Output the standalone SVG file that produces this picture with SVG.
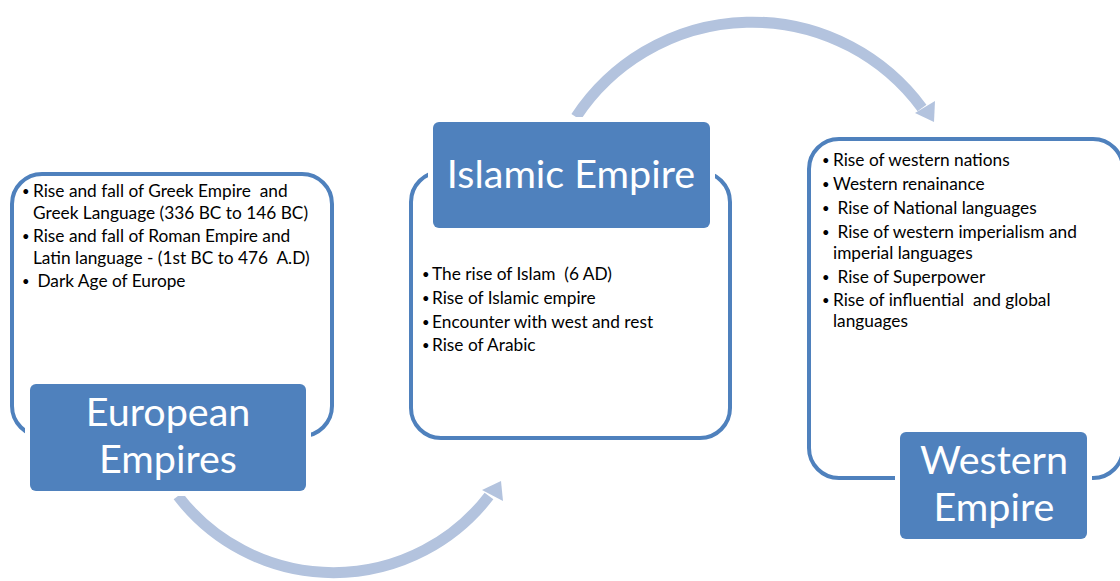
<svg xmlns="http://www.w3.org/2000/svg" width="1120" height="581" viewBox="0 0 1120 581">
<style>
.outline{fill:#ffffff;stroke:#4f81bd;stroke-width:4}
.mask{fill:#ffffff}
.title{fill:#4f81bd}
.tt{font-family:Lato,"Open Sans",sans-serif;font-size:39.5px;fill:#ffffff;text-anchor:middle}
.bt{font-family:Lato,"Open Sans",sans-serif;font-size:17.3px;fill:#000000;white-space:pre}
.bu{font-family:Lato,"Open Sans",sans-serif;font-size:13px;fill:#000000}
.arc{fill:none;stroke:#b3c3de;stroke-width:11}
.head{fill:#b3c3de}
</style>
<g id="connectors">
<path class="arc" d="M 178 496 A 196 196 0 0 0 489 496"/>
<polygon class="head" points="501,481 482,490 503,501"/>
<path class="arc" d="M 576 117 A 211 211 0 0 1 922 108"/>
<polygon class="head" points="935,101 915,113 934,122"/>
</g>
<g id="european">
<rect class="outline" x="12" y="174" width="320" height="262" rx="30"/>
<rect class="mask" x="25" y="379" width="286" height="117" rx="8"/>
<rect class="title" x="30" y="384" width="276" height="107" rx="6"/>
<text class="tt" x="168" y="426">European</text>
<text class="tt" x="168" y="473">Empires</text>
<text class="bu" x="22" y="196">•</text><text class="bt" x="33" y="197">Rise and fall of Greek Empire  and</text>
<text class="bt" x="33" y="219">Greek Language (336 BC to 146 BC)</text>
<text class="bu" x="22" y="241">•</text><text class="bt" x="33" y="242">Rise and fall of Roman Empire and</text>
<text class="bt" x="33" y="264">Latin language - (1st BC to 476  A.D)</text>
<text class="bu" x="22" y="286">•</text><text class="bt" x="33" y="287"> Dark Age of Europe</text>
</g>
<g id="islamic">
<rect class="outline" x="411" y="172" width="319" height="266" rx="30"/>
<rect class="mask" x="428" y="117" width="287" height="116" rx="8"/>
<rect class="title" x="433" y="122" width="277" height="106" rx="6"/>
<text class="tt" x="571" y="188">Islamic Empire</text>
<text class="bu" x="422" y="279">•</text><text class="bt" x="432" y="280">The rise of Islam  (6 AD)</text>
<text class="bu" x="422" y="303">•</text><text class="bt" x="432" y="304">Rise of Islamic empire</text>
<text class="bu" x="422" y="327">•</text><text class="bt" x="432" y="328">Encounter with west and rest</text>
<text class="bu" x="422" y="350">•</text><text class="bt" x="432" y="351">Rise of Arabic</text>
</g>
<g id="western">
<rect class="outline" x="809" y="139" width="314" height="339" rx="30"/>
<rect class="mask" x="895" y="427" width="197" height="117" rx="8"/>
<rect class="title" x="900" y="432" width="187" height="107" rx="6"/>
<text class="tt" x="994" y="474">Western</text>
<text class="tt" x="994" y="521">Empire</text>
<text class="bu" x="822" y="165">•</text><text class="bt" x="833" y="166">Rise of western nations</text>
<text class="bu" x="822" y="189">•</text><text class="bt" x="833" y="190">Western renainance</text>
<text class="bu" x="822" y="213">•</text><text class="bt" x="833" y="214"> Rise of National languages</text>
<text class="bu" x="822" y="237">•</text><text class="bt" x="833" y="238"> Rise of western imperialism and</text>
<text class="bt" x="833" y="259">imperial languages</text>
<text class="bu" x="822" y="282">•</text><text class="bt" x="833" y="283"> Rise of Superpower</text>
<text class="bu" x="822" y="305">•</text><text class="bt" x="833" y="306">Rise of influential  and global</text>
<text class="bt" x="833" y="327">languages</text>
</g>
</svg>
